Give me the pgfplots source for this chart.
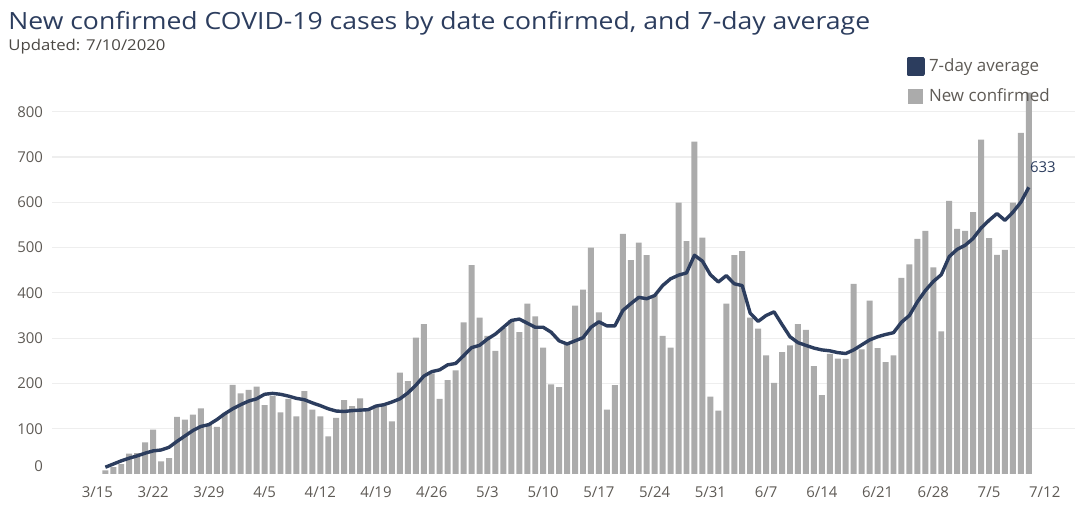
\documentclass[border=0pt]{standalone}
\usepackage{fontspec}
\setmainfont{Open Sans}
\newfontfamily\titlefont[FakeStretch=1.12]{Open Sans}
\usepackage{pgfplots}
\pgfplotsset{compat=1.18}
\definecolor{navy}{HTML}{2C3D5E}
\definecolor{barg}{HTML}{ABABAB}
\definecolor{tickg}{HTML}{5E5A55}
\definecolor{gridg}{HTML}{EEEEEE}

% day 1 = 3/16, day 117 = 7/10
\pgfplotstableread{
day cases
1 8
2 15
3 22
4 45
5 46
6 70
7 98
8 28
9 35
10 126
11 120
12 131
13 145
14 110
15 104
16 135
17 197
18 178
19 186
20 193
21 152
22 172
23 136
24 166
25 127
26 183
27 142
28 127
29 83
30 124
31 163
32 150
33 167
34 142
35 150
36 150
37 116
38 224
39 205
40 301
41 331
42 222
43 166
44 207
45 229
46 335
47 461
48 345
49 305
50 272
51 322
52 340
53 313
54 376
55 348
56 279
57 198
58 192
59 285
60 372
61 407
62 500
63 357
64 142
65 196
66 530
67 472
68 511
69 483
70 395
71 305
72 279
73 599
74 514
75 734
76 522
77 171
78 140
79 376
80 483
81 492
82 345
83 321
84 262
85 201
86 269
87 284
88 331
89 318
90 238
91 174
92 265
93 255
94 254
95 420
96 275
97 383
98 278
99 247
100 262
101 433
102 463
103 519
104 537
105 456
106 315
107 603
108 541
109 537
110 578
111 738
112 521
113 484
114 495
115 599
116 753
117 842
}\cases

\pgfplotstableread{
day avg
1 15
2 22
3 29
4 35
5 40
6 46
7 51
8 53
9 59
10 72
11 84
12 96
13 105
14 109
15 120
16 133
17 144
18 153
19 161
20 166
21 176
22 178
23 176
24 172
25 167
26 164
27 157
28 151
29 144
30 139
31 138
32 140
33 141
34 142
35 150
36 153
37 159
38 166
39 179
40 196
41 216
42 226
43 230
44 241
45 244
46 261
47 279
48 284
49 298
50 309
51 324
52 339
53 342
54 333
55 324
56 324
57 313
58 294
59 287
60 294
61 301
62 324
63 336
64 327
65 327
66 361
67 376
68 390
69 387
70 394
71 416
72 431
73 439
74 444
75 483
76 470
77 440
78 424
79 438
80 420
81 416
82 355
83 337
84 350
85 358
86 330
87 303
88 290
89 284
90 278
91 274
92 272
93 268
94 266
95 274
96 285
97 296
98 303
99 308
100 312
101 335
102 350
103 380
104 405
105 425
106 440
107 480
108 496
109 505
110 520
111 543
112 560
113 575
114 560
115 578
116 600
117 633
}\avgs

\begin{document}
\begin{tikzpicture}
\useasboundingbox (-26bp,-18.5bp) rectangle (514bp,237bp);
\begin{axis}[
    scale only axis,
    width=511.5bp, height=192.5bp,
    at={(0,0)}, anchor=south west,
    xmin=-5.7, xmax=122.8,
    ymin=0, ymax=850,
    axis line style={draw=none},
    major tick length=0pt,
    ytick={100,200,...,800},
    extra y ticks={0},
    extra y tick style={yticklabel style={yshift=4bp}, ymajorgrids=false},
    ymajorgrids,
    grid style={gridg, line width=0.6bp},
    xtick={0,7,...,119},
    xticklabels={3/15,3/22,3/29,4/5,4/12,4/19,4/26,5/3,5/10,5/17,5/24,5/31,6/7,6/14,6/21,6/28,7/5,7/12},
    ticklabel style={font=\fontsize{7.5}{9}\selectfont, text=tickg},
    /pgf/number format/assume math mode=true,
    yticklabel style={xshift=-1bp},
    xticklabel style={yshift=-3bp},
    reverse legend,
    legend cell align=left,
    legend style={
        at={(rel axis cs:0.835,1.09)}, anchor=north west,
        draw=none, fill=none, inner sep=0pt,
        font=\fontsize{8.5}{10}\selectfont, text=tickg,
        row sep=3bp,
    },
]
\addplot[ybar, bar width=0.75, fill=barg, draw=none,
    legend image code/.code={\fill[barg] (0bp,-3.75bp) rectangle (7.5bp,3.75bp);}]
    table[x=day, y=cases] {\cases};
\addlegendentry{New confirmed}
\addplot[navy, line width=1.7bp, line join=round, mark=none,
    legend image code/.code={\fill[navy] (0bp,-3.75bp) rectangle (7.5bp,3.75bp);}]
    table[x=day, y=avg] {\avgs};
\addlegendentry{7-day average}
\node[text=navy, font=\fontsize{7.5}{9}\selectfont, xshift=7bp, yshift=10bp]
    at (axis cs:117,633) {633};
\end{axis}
\node[anchor=base west, inner sep=0pt, text=navy, font=\titlefont\fontsize{11.9}{14}\selectfont]
    at (-22bp,222bp) {New confirmed COVID-19 cases by date confirmed, and 7-day average};
\node[anchor=base west, inner sep=0pt, text=tickg!80!black, font=\titlefont\fontsize{7.5}{9}\selectfont]
    at (-22bp,211.5bp) {Updated: 7/10/2020};
\end{tikzpicture}
\end{document}
